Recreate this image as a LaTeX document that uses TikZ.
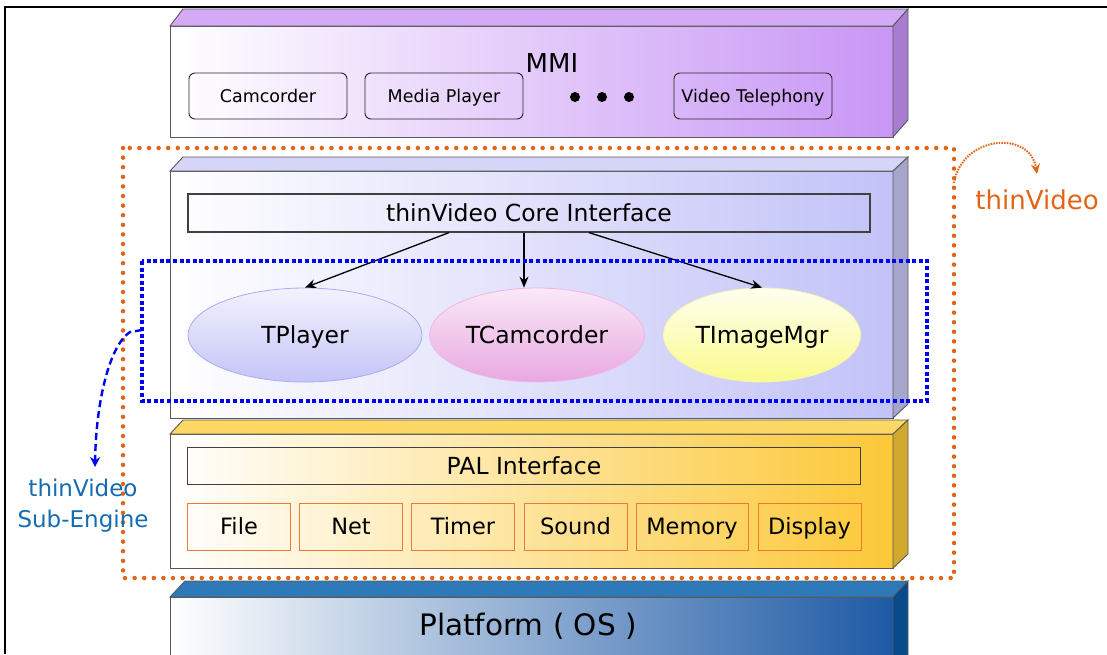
\documentclass[tikz,border=0pt]{standalone}
\usepackage{fontspec}
\setmainfont{DejaVu Sans}
\usetikzlibrary{shapes.geometric,arrows.meta}

\definecolor{mmitop}{RGB}{212,170,247}
\definecolor{mmiside}{RGB}{168,125,208}
\definecolor{mmiright}{RGB}{200,150,245}
\definecolor{tvtop}{RGB}{213,213,247}
\definecolor{tvside}{RGB}{166,166,204}
\definecolor{tvright}{RGB}{194,194,248}
\definecolor{paltop}{RGB}{254,216,100}
\definecolor{palside}{RGB}{210,168,47}
\definecolor{palright}{RGB}{252,200,55}
\definecolor{plattop}{RGB}{46,122,184}
\definecolor{platside}{RGB}{8,74,138}
\definecolor{platright}{RGB}{30,90,165}
\definecolor{palline}{RGB}{240,120,48}
\definecolor{tvorange}{RGB}{226,100,20}
\definecolor{tvblue}{RGB}{0,0,245}
\definecolor{subblue}{RGB}{22,108,178}

\begin{document}
\begin{tikzpicture}
    [x=1pt,y=-1pt,
     facestyle/.style={draw=black!65,line width=0.9pt},
     mmistyle/.style={draw=black!85,rounded corners=6pt,line width=0.9pt,minimum width=158pt,minimum height=46pt,inner sep=0pt,text height=12.8pt,text depth=0pt,font=\fontsize{17.5}{20}\selectfont},
     ifacestyle/.style={draw=black!75,line width=1.2pt,inner sep=0pt,text height=17.2pt,text depth=0pt,font=\fontsize{23.5}{27}\selectfont},
     palstyle/.style={draw=palline,line width=1pt,minimum height=47pt,inner sep=0pt,text height=16.4pt,text depth=0pt,font=\fontsize{22.5}{26}\selectfont},
     ellstyle/.style={ellipse,inner sep=0pt,line width=0.8pt,minimum height=94pt,text height=17.2pt,text depth=0pt,font=\fontsize{23.5}{28}\selectfont},
     arrowstyle/.style={-{Stealth[length=11pt,width=9pt]},line width=1.3pt},
     orangedotstyle/.style={draw=tvorange,line width=4.5pt,line cap=round,dash pattern=on 0pt off 9.6pt},
     bluedotstyle/.style={draw=tvblue,line width=4pt,dash pattern=on 4pt off 2.6pt}]

    \useasboundingbox (0,0) rectangle (1107,654);
    \draw [line width=2.7pt] (5,654) -- (5,7) -- (1107,7);

    \shade [facestyle,left color=white,right color=mmiright] (170,26) rectangle (893,137);
    \filldraw [facestyle,fill=mmitop] (170,26) -- (183,9) -- (908,9) -- (893,26) -- cycle;
    \filldraw [facestyle,fill=mmiside] (893,26) -- (908,9) -- (908,120) -- (893,137) -- cycle;

    \shade [facestyle,left color=white,right color=tvright] (170,171) rectangle (893,418);
    \filldraw [facestyle,fill=tvtop] (170,171) -- (183,157) -- (908,157) -- (893,171) -- cycle;
    \filldraw [facestyle,fill=tvside] (893,171) -- (908,157) -- (908,404) -- (893,418) -- cycle;

    \shade [facestyle,left color=white,right color=palright] (170,434) rectangle (893,568);
    \filldraw [facestyle,fill=paltop] (170,434) -- (183,420) -- (908,420) -- (893,434) -- cycle;
    \filldraw [facestyle,fill=palside] (893,434) -- (908,420) -- (908,554) -- (893,568) -- cycle;

    \shade [facestyle,left color=white,right color=platright] (170,597) rectangle (893,660);
    \filldraw [facestyle,fill=plattop] (170,597) -- (185,581) -- (908,581) -- (893,597) -- cycle;
    \filldraw [facestyle,fill=platside] (893,597) -- (908,581) -- (908,660) -- (893,660) -- cycle;

    \node (mmi) at (552,63) {\fontsize{26}{30}\selectfont MMI};
    \node [mmistyle] (camcorder) at (268,96) {Camcorder};
    \node [mmistyle] (mediaplayer) at (444,96) {Media Player};
    \node [mmistyle] (videotel) at (753,96) {Video Telephony};
    \fill (575,97) circle (5pt);
    \fill (602,97) circle (5pt);
    \fill (629,97) circle (5pt);

    \node [ifacestyle,minimum width=682pt,minimum height=38pt] (core) at (529,213) {thinVideo Core Interface};
    \node [ellstyle,draw={rgb,255:red,170;green,170;blue,245},top color={rgb,255:red,242;green,242;blue,253},bottom color={rgb,255:red,196;green,196;blue,248},minimum width=234pt] (tplayer) at (305,335) {TPlayer};
    \node [ellstyle,draw={rgb,255:red,236;green,182;blue,232},top color={rgb,255:red,250;green,232;blue,247},bottom color={rgb,255:red,232;green,168;blue,224},minimum width=215pt] (tcamcorder) at (537,335) {TCamcorder};
    \node [ellstyle,draw={rgb,255:red,245;green,245;blue,175},top color={rgb,255:red,255;green,255;blue,242},bottom color={rgb,255:red,250;green,250;blue,140},minimum width=197pt] (timagemgr) at (762,335) {TImageMgr};

    \draw [arrowstyle] ([xshift=-80pt]core.south) -- (tplayer.north);
    \draw [arrowstyle] ([xshift=-5pt]core.south) -- ([xshift=-13pt]tcamcorder.north);
    \draw [arrowstyle] ([xshift=60pt]core.south) -- (timagemgr.north);

    \node [ifacestyle,minimum width=673pt,minimum height=37pt] (pal) at (524,466) {PAL Interface};
    \node [palstyle,minimum width=103pt] (file) at (239,526.5) {File};
    \node [palstyle,minimum width=103pt] (net) at (351,526.5) {Net};
    \node [palstyle,minimum width=103pt] (timer) at (463,526.5) {Timer};
    \node [palstyle,minimum width=103pt] (sound) at (575.5,526.5) {Sound};
    \node [palstyle,minimum width=112pt] (memory) at (692,526.5) {Memory};
    \node [palstyle,minimum width=103pt] (display) at (809.5,526.5) {Display};

    \node (platform) at (528,626) {\fontsize{29.5}{34}\selectfont Platform ( OS )};

    \draw [bluedotstyle] (142,261) rectangle (927,401);
    \draw [orangedotstyle] (123,148) rectangle (954,578);

    \node [text=tvorange,font=\fontsize{26}{30}\selectfont] (tvlabel) at (1037,200) {thinVideo};
    \node [text=subblue,align=center,font=\fontsize{23}{31}\selectfont] (sublabel) at (83,506) {thinVideo\\Sub-Engine};

    \coordinate (tvstart) at (954,183);
    \coordinate (tvend) at (1037,174);
    \draw [draw=tvorange,line width=2pt,dash pattern=on 1.5pt off 1.2pt,-{Stealth[length=10pt,width=9pt]}] (tvstart) .. controls (962,135) and (1030,130) .. (tvend);

    \coordinate (substart) at (142,330);
    \coordinate (subend) at (95,467);
    \draw [draw=tvblue,line width=2.4pt,dash pattern=on 7pt off 4pt,-{Stealth[length=10pt,width=10pt]}] (substart) -- (130,332) .. controls (110,345) and (96,400) .. (subend);
\end{tikzpicture}
\end{document}
